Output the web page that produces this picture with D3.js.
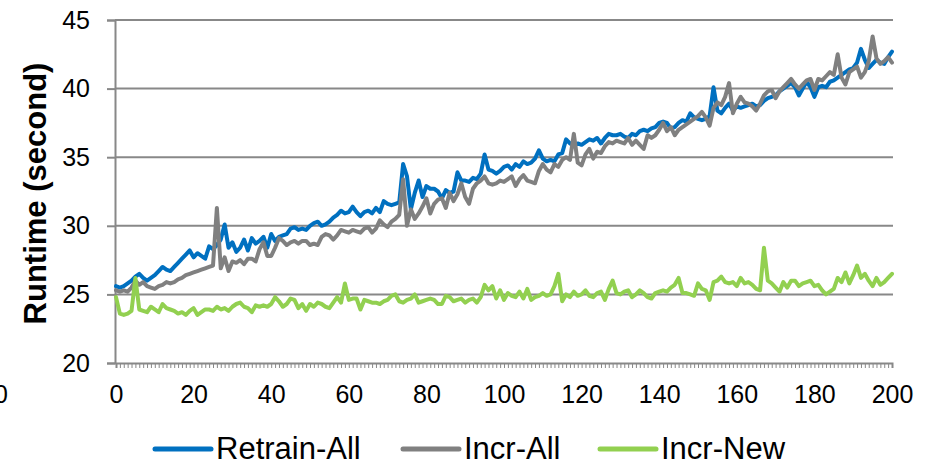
<!DOCTYPE html>
<html>
<head>
<meta charset="utf-8">
<script src="https://cdn.jsdelivr.net/npm/d3@7"></script>
<style>
  html, body { margin: 0; padding: 0; background: #fff; }
  svg { display: block; }
  text { font-family: Arial, "Liberation Sans", sans-serif; fill: #000; }
</style>
</head>
<body>
<svg id="chart" width="927" height="466"></svg>
<script>
// ---- data ----
const seriesNames = ["Retrain-All", "Incr-All", "Incr-New"];
const seriesColors = ["#0070C0", "#808080", "#92D050"];

const retrainAll = [
  25.6, 25.5, 25.6, 25.8, 26.0, 26.3, 26.5, 26.2, 26.0, 26.2,
  26.4, 26.7, 27.0, 26.8, 26.7, 27.0, 27.3, 27.6, 27.9, 28.2,
  27.7, 28.0, 27.8, 27.6, 28.5, 28.3, 28.6, 29.0, 30.1, 28.4,
  28.8, 28.1, 28.4, 29.0, 28.2, 29.1, 28.7, 28.9, 29.2, 28.4,
  29.4, 28.9, 29.2, 29.3, 29.4, 29.8, 29.9, 29.7, 29.8, 29.7,
  30.0, 30.2, 30.3, 30.0, 30.1, 30.3, 30.6, 30.8, 31.1, 30.9,
  31.0, 31.4, 31.0, 30.7, 31.0, 31.1, 30.9, 31.3, 31.0, 31.8,
  31.6, 31.5, 31.6, 31.7, 34.5, 33.6, 31.2, 32.4, 33.3, 32.1,
  32.9, 32.7, 32.7, 32.5, 32.0, 32.6, 32.4, 32.5, 33.9, 33.3,
  33.3, 33.2, 33.5, 33.4, 33.8, 35.2, 34.1, 34.0, 33.8, 34.0,
  34.3, 34.4, 34.1, 34.5, 34.3, 34.7, 34.5, 34.6, 34.9, 35.5,
  34.9, 34.7, 34.8, 34.7, 35.2, 35.3, 36.3, 36.0, 35.8, 36.0,
  35.9, 36.1, 36.3, 36.2, 36.4, 36.0, 36.4, 36.7, 36.6, 36.6,
  36.7, 36.5, 36.4, 36.7, 36.6, 36.9, 37.0, 36.9, 37.1, 37.2,
  37.5, 37.6, 37.5, 37.1, 37.2, 37.5, 37.7, 37.6, 38.2, 37.9,
  37.8, 37.7, 37.8, 38.0, 40.1, 38.4, 38.2, 38.6, 38.9, 38.4,
  38.7, 38.6, 38.7, 38.8, 38.9, 38.7, 38.8, 39.1, 39.3, 39.4,
  39.5, 39.8, 40.0, 40.2, 40.4, 40.1, 39.5, 40.0, 40.5, 40.1,
  39.4, 40.1, 40.2, 40.1, 40.5, 40.6, 40.8, 41.0, 41.2, 41.4,
  41.5, 41.9, 42.9, 42.1, 41.5, 41.8, 42.1, 41.9, 41.8, 42.3, 42.7
];

const incrAll = [
  25.3, 25.2, 25.3, 25.2, 25.5, 26.0, 25.7, 25.9, 25.6, 25.5,
  25.4, 25.6, 25.7, 25.9, 25.8, 25.9, 26.1, 26.2, 26.4, 26.5,
  26.6, 26.7, 26.8, 26.9, 27.0, 27.1, 31.3, 26.9, 27.7, 26.7,
  27.4, 27.3, 27.5, 27.2, 27.6, 27.6, 27.4, 28.3, 28.8, 27.8,
  27.8, 28.4, 29.1, 28.9, 28.6, 28.8, 28.9, 28.7, 28.9, 28.9,
  28.6, 28.7, 28.6, 29.2, 29.4, 29.3, 29.0, 29.3, 29.7, 29.6,
  29.5, 29.7, 29.6, 29.5, 29.8, 29.9, 29.5, 29.8, 30.4, 30.1,
  29.9, 30.3, 30.5, 30.8, 33.4, 30.0, 31.2, 30.5, 30.9, 31.4,
  32.0, 30.9, 31.6, 31.9, 32.0, 31.3, 32.4, 31.8, 32.3, 33.1,
  32.1, 31.6, 32.7, 33.1, 33.3, 33.6, 33.1, 33.0, 33.1, 33.3,
  33.2, 33.4, 33.6, 32.9, 33.4, 33.7, 33.3, 33.2, 33.1, 34.0,
  34.5, 34.1, 33.9, 34.5, 34.3, 34.8, 35.0, 34.8, 36.7, 34.6,
  34.4, 35.2, 35.6, 34.9, 35.4, 35.3, 35.8, 36.1, 36.0, 36.2,
  36.1, 36.0, 36.4, 35.9, 36.2, 35.9, 35.6, 36.6, 36.4, 36.6,
  37.0, 37.5, 36.9, 37.2, 36.6, 37.0, 37.2, 37.4, 37.6, 37.8,
  38.0, 38.3, 37.9, 37.3, 38.6, 39.0, 38.8, 39.4, 40.4, 38.2,
  38.9, 39.4, 39.0, 38.9, 38.7, 38.4, 38.9, 39.5, 39.8, 39.9,
  39.3, 39.8, 40.1, 40.4, 40.7, 40.3, 40.0, 40.3, 40.6, 40.7,
  39.9, 40.7, 40.6, 40.9, 41.2, 41.0, 42.5, 40.8, 40.3, 41.2,
  41.4, 41.6, 40.8, 41.2, 42.0, 43.8, 42.2, 41.8, 42.0, 42.3, 41.9
];

const incrNew = [
  24.8, 23.6, 23.5, 23.6, 23.8, 26.2, 23.9, 23.8, 23.7, 24.1,
  23.9, 23.7, 24.3, 24.0, 23.9, 23.8, 23.6, 23.7, 23.5, 23.8,
  24.0, 23.5, 23.7, 23.9, 23.9, 23.8, 24.1, 23.9, 24.0, 23.8,
  24.1, 24.3, 24.4, 24.1, 24.0, 23.7, 24.2, 24.1, 24.2, 24.1,
  24.3, 24.8, 24.5, 24.1, 24.3, 24.7, 24.6, 24.0, 24.3, 23.8,
  24.3, 24.1, 24.4, 24.3, 24.1, 24.0, 24.4, 24.8, 24.4, 25.8,
  24.6, 24.7, 24.7, 23.9, 24.6, 24.5, 24.4, 24.4, 24.3, 24.5,
  24.6, 24.9, 25.0, 24.5, 24.4, 24.6, 24.7, 25.0, 24.4, 24.5,
  24.6, 24.7, 24.6, 24.3, 24.3, 24.9, 24.8, 24.5, 24.6, 24.7,
  24.4, 24.6, 24.7, 24.4, 24.8, 25.7, 25.3, 25.6, 24.7, 25.3,
  24.6, 25.1, 24.9, 24.8, 25.2, 24.7, 25.4, 24.6, 24.8, 24.9,
  25.1, 24.9, 25.0, 25.6, 26.5, 24.5, 25.0, 24.8, 25.2, 24.9,
  25.0, 25.3, 24.9, 24.8, 25.1, 25.2, 24.6, 25.4, 26.0, 25.1,
  25.0, 25.2, 25.3, 24.8, 25.0, 25.3, 25.1, 24.8, 24.7, 25.1,
  25.2, 25.3, 25.2, 25.5, 25.7, 26.2, 25.1, 25.1, 25.0, 24.9,
  25.8, 25.4, 25.3, 24.6, 25.9, 26.0, 26.3, 25.9, 25.8, 25.9,
  25.6, 26.2, 25.8, 25.9, 25.7, 25.4, 25.3, 28.4, 26.0, 25.8,
  25.5, 25.2, 25.9, 25.5, 26.0, 26.0, 25.6, 25.8, 25.9, 26.0,
  25.6, 25.7, 25.3, 25.0, 25.2, 25.4, 26.2, 25.9, 26.6, 25.8,
  26.4, 27.1, 26.2, 26.5, 26.0, 25.6, 26.2, 25.7, 25.9, 26.2, 26.5
];

const xTickLabels = [0, 20, 40, 60, 80, 100, 120, 140, 160, 180, 200];
const yTickLabels = [20, 25, 30, 35, 40, 45];
const yAxisTitle = "Runtime (second)";

// ---- drawing ----
const svg = d3.select("#chart");
const axisColor = "#888888";

const x = d3.scaleLinear().domain([0, 200]).range([116, 892]);
const y = d3.scaleLinear().domain([20, 45]).range([363, 20]);

// gridlines
svg.append("g").selectAll("line")
  .data(yTickLabels.filter(v => v > 20))
  .join("line")
  .attr("x1", x(0) - 1).attr("x2", x(200) + 1)
  .attr("y1", d => y(d)).attr("y2", d => y(d))
  .attr("stroke", axisColor).attr("stroke-width", 2);

// y axis
const yAxis = d3.axisLeft(y).tickValues(yTickLabels).tickSize(8).tickPadding(17);
const gy = svg.append("g").attr("transform", `translate(${x(0) - 1},0)`).call(yAxis);
gy.select(".domain").attr("stroke", axisColor).attr("stroke-width", 2);
gy.selectAll(".tick line").attr("stroke", axisColor).attr("stroke-width", 2);
gy.selectAll(".tick text").style("font-size", "25px").attr("fill", "#000")
  .style("font-family", "Arial, 'Liberation Sans', sans-serif");

// x axis: minor ticks at every unit, labels every 20
const minorTicks = d3.range(0, 201);
const xAxisMinor = d3.axisBottom(x).tickValues(minorTicks).tickSize(5).tickFormat("");
const gxm = svg.append("g").attr("transform", `translate(0,${y(20)})`).call(xAxisMinor);
gxm.select(".domain").attr("stroke", axisColor).attr("stroke-width", 2);
gxm.selectAll(".tick line").attr("stroke", axisColor).attr("stroke-width", 1);

const xAxisMajor = d3.axisBottom(x).tickValues(xTickLabels).tickSize(0).tickPadding(22);
const gx = svg.append("g").attr("transform", `translate(0,${y(20)})`).call(xAxisMajor);
gx.select(".domain").remove();
gx.selectAll(".tick text").style("font-size", "25px").attr("fill", "#000")
  .style("font-family", "Arial, 'Liberation Sans', sans-serif");

// stray clipped label at the far left (as in the reference)
svg.append("text").attr("x", 1).attr("y", 403).attr("text-anchor", "middle")
  .style("font-size", "25px").text("0");

// y title
svg.append("text")
  .attr("transform", `translate(46,${(62 + 325) / 2}) rotate(-90)`)
  .attr("text-anchor", "middle")
  .style("font-size", "31px").style("font-weight", "bold")
  .text(yAxisTitle);

// lines
const allSeries = [retrainAll, incrAll, incrNew];
const line = d3.line().x((d, i) => x(i)).y(d => y(d)).curve(d3.curveLinear);
allSeries.forEach((vals, k) => {
  svg.append("path").datum(vals)
    .attr("d", line)
    .attr("fill", "none")
    .attr("stroke", seriesColors[k])
    .attr("stroke-width", 4)
    .attr("stroke-linejoin", "round")
    .attr("stroke-linecap", "round");
});

// legend
const legendItems = [
  { name: seriesNames[0], color: seriesColors[0], x0: 155 },
  { name: seriesNames[1], color: seriesColors[1], x0: 403 },
  { name: seriesNames[2], color: seriesColors[2], x0: 600 }
];
const lg = svg.append("g");
legendItems.forEach(it => {
  lg.append("line").attr("x1", it.x0).attr("x2", it.x0 + 56)
    .attr("y1", 449).attr("y2", 449)
    .attr("stroke", it.color).attr("stroke-width", 5).attr("stroke-linecap", "round");
  lg.append("text").attr("x", it.x0 + 61).attr("y", 459)
    .style("font-size", "31px").text(it.name);
});
</script>
</body>
</html>
